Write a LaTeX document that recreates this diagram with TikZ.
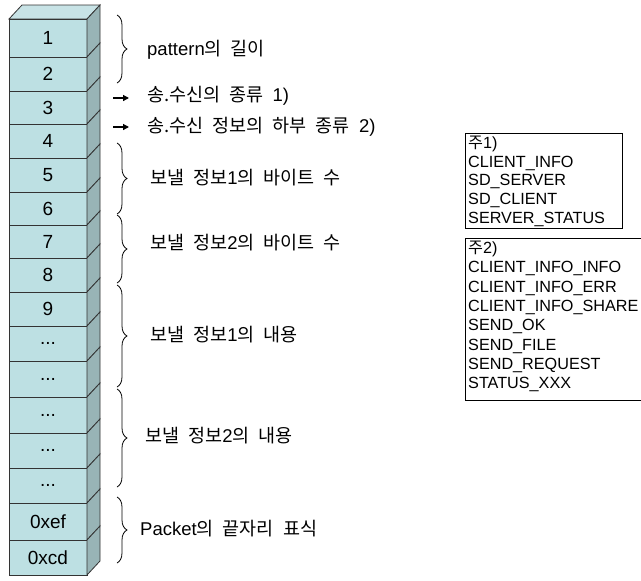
\documentclass[tikz,border=0pt]{standalone}
\usepackage{fontspec}
\setmainfont{Liberation Sans}
\newfontfamily\kr{Noto Sans CJK KR}[WordSpace=2.2]
\usetikzlibrary{decorations.pathreplacing,arrows.meta}
\definecolor{frontc}{HTML}{BDE0E3}
\definecolor{sidec}{HTML}{98B4B6}
\definecolor{topc}{HTML}{C8E3E6}
\definecolor{edgec}{HTML}{333333}
\newcommand\dotlbl{...}
\newcommand\lat[1]{{\rmfamily #1}}
\begin{document}
\begin{tikzpicture}[x=1pt,y=-1pt,
  frontface/.style={fill=frontc,draw=edgec,line width=0.8pt},
  sideface/.style={fill=sidec,draw=edgec,line width=0.8pt},
  topface/.style={fill=topc,draw=edgec,line width=0.8pt},
  numlbl/.style={font=\fontsize{19}{19}\selectfont,inner sep=0pt},
  krlbl/.style={font=\kr\fontsize{18.5}{18.5}\selectfont,anchor=west,inner sep=0pt},
  notetext/.style={font=\fontsize{16.2}{18.6}\selectfont,align=left,anchor=north west,inner sep=0pt},
  notetextb/.style={font=\fontsize{16.2}{19.3}\selectfont,align=left,anchor=north west,inner sep=0pt},
  notebox/.style={draw=black,line width=0.8pt},
  bracestyle/.style={decorate,decoration={brace,amplitude=10pt},line width=0.8pt},
  pointer/.style={-{Triangle[length=6pt,width=6pt]},line width=1.3pt}]
\useasboundingbox (0,0) rectangle (641,581);
\fill[white] (0,0) rectangle (641,581);
% top of stack
\filldraw[topface] (9,19) -- (22,5) -- (100,5) -- (87,19) -- cycle;
% cells
\foreach \t/\b/\lab [count=\i] in {19/57/1,57/91/2,91/124/3,124/158/4,158/192/5,192/225/6,225/258/7,258/292/8,292/326/9,326/361/\dotlbl,361/397/\dotlbl,397/433/\dotlbl,433/468/\dotlbl,468/503/\dotlbl,503/540/0xef,540/575/0xcd}{
  \filldraw[frontface] (9,\t) rectangle (87,\b);
  \filldraw[sideface] (87,\t) -- (100,\t-14) -- (100,\b-14) -- (87,\b) -- cycle;
  \node[numlbl] (c\i) at (48,{(\t+\b)/2}) {\lab};
}
% braces
\draw[bracestyle] (117,15) coordinate (b1s) -- (117,83) coordinate (b1e);
\draw[bracestyle] (117,143) coordinate (b2s) -- (117,214) coordinate (b2e);
\draw[bracestyle] (117,215) coordinate (b3s) -- (117,283) coordinate (b3e);
\draw[bracestyle] (117,285) coordinate (b4s) -- (117,387) coordinate (b4e);
\draw[bracestyle] (117,389) coordinate (b5s) -- (117,487) coordinate (b5e);
\draw[bracestyle] (117,497) coordinate (b6s) -- (117,563) coordinate (b6e);
% arrows
\coordinate (a1s) at (113,98);
\coordinate (a1e) at (129,98);
\coordinate (a2s) at (113,127);
\coordinate (a2e) at (129,127);
\draw[pointer] (a1s) -- (a1e);
\draw[pointer] (a2s) -- (a2e);
% labels
\node[krlbl] (l1) at (147,50) {\lat{pattern}의 길이};
\node[krlbl] (l2) at (147,96) {송.수신의 종류 \lat{1)}};
\node[krlbl] (l3) at (147,127) {송.수신 정보의 하부 종류 \lat{2)}};
\node[krlbl] (l4) at (150,178) {보낼 정보\lat{1}의 바이트 수};
\node[krlbl] (l5) at (150,243) {보낼 정보\lat{2}의 바이트 수};
\node[krlbl] (l6) at (150,335) {보낼 정보\lat{1}의 내용};
\node[krlbl] (l7) at (145,436) {보낼 정보\lat{2}의 내용};
\node[krlbl] (l8) at (140,529) {\lat{Packet}의 끝자리 표식};
% note boxes
\draw[notebox] (465,133) rectangle (622,228);
\node[notetext] (n1) at (468,136) {{\kr 주}1)\\CLIENT\_INFO\\SD\_SERVER\\SD\_CLIENT\\SERVER\_STATUS};
\draw[notebox] (645,238) -- (465,238) -- (465,400) -- (645,400);
\node[notetextb] (n2) at (468,241) {{\kr 주}2)\\CLIENT\_INFO\_INFO\\CLIENT\_INFO\_ERR\\CLIENT\_INFO\_SHARE\\SEND\_OK\\SEND\_FILE\\SEND\_REQUEST\\STATUS\_XXX};
\end{tikzpicture}
\end{document}
